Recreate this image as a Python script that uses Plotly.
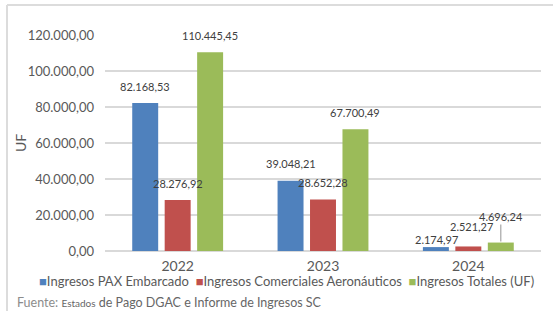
import plotly.graph_objects as go

years = ["2022", "2023", "2024"]
series_names = ["Ingresos PAX Embarcado", "Ingresos Comerciales Aeronáuticos", "Ingresos Totales (UF)"]
pax = [82168.53, 39048.21, 2174.97]
comerciales = [28276.92, 28652.28, 2521.27]
totales = [110445.45, 67700.49, 4696.24]
y_ticks = [0, 20000, 40000, 60000, 80000, 100000, 120000]

colors = ["#4f81bd", "#c0504d", "#9bbb59"]
FONT = "Lato, Open Sans, sans-serif"

W, H = 553, 311
L, R, T, B = 105, 12, 35, 60
PW, PH = W - L - R, H - T - B

def px(xp):
    return (xp - L) / PW

def py(yp):
    return (H - B - yp) / PH

fig = go.Figure()
all_vals = [pax, comerciales, totales]
for name, vals, c in zip(series_names, all_vals, colors):
    fig.add_trace(go.Bar(x=years, y=vals, name=name, marker=dict(color=c, line=dict(width=0)),
                         showlegend=False, hoverinfo="skip"))

def fmt(v):
    s = f"{v:,.2f}"
    return s.replace(",", "X").replace(".", ",").replace("X", ".")

slot = PW / 3 * (1 - 0.33) / 3
# label offsets (px) per [series][year]
yshifts = [[17, 17, 8], [17, 17, 20], [17, 17, None]]
xextra = [[0, 0, 1], [0, 0, 3], [0, 0, 0]]
for si, vals in enumerate(all_vals):
    for yi, v in enumerate(vals):
        xs = (si - 1) * slot + xextra[si][yi]
        if yshifts[si][yi] is None:
            fig.add_annotation(x=yi, y=v, xshift=xs, text=fmt(v), showarrow=True,
                               arrowhead=0, arrowwidth=1.2, arrowcolor="#a6a6a6", ax=0, ay=-26,
                               standoff=1, font=dict(family=FONT, size=11, color="#404040"))
        else:
            fig.add_annotation(x=yi, y=v, xshift=xs, yshift=yshifts[si][yi], text=fmt(v),
                               showarrow=False, font=dict(family=FONT, size=11, color="#404040"))

# legend as text
leg = "&nbsp;&nbsp;".join(
    f"<span style='color:{c}'>■</span>{n}" for n, c in zip(series_names, colors))
fig.add_annotation(xref="paper", yref="paper", x=px(286), y=py(281), text=leg, showarrow=False,
                   xanchor="center", yanchor="middle", font=dict(family=FONT, size=13, color="#595959"))

# y title
fig.add_annotation(xref="paper", yref="paper", x=px(20), y=py(143), text="UF", textangle=-90,
                   xanchor="center", yanchor="middle",
                   showarrow=False, font=dict(family=FONT, size=14, color="#595959"))

# footnote
fig.add_annotation(xref="paper", yref="paper", x=px(15), y=py(302), xanchor="left", yanchor="middle",
                   text="<span style='color:#8c8c8c'>Fuente: </span><span style='font-size:10px'>Estados</span> de Pago DGAC e Informe de Ingresos SC",
                   showarrow=False, font=dict(family=FONT, size=12.5, color="#666666"))

# border lines
fig.add_shape(type="line", xref="paper", yref="paper", x0=px(7), x1=px(553), y0=py(5), y1=py(5),
              line=dict(color="#dcdcdc", width=2))
fig.add_shape(type="line", xref="paper", yref="paper", x0=px(7), x1=px(7), y0=py(5), y1=py(311),
              line=dict(color="#dcdcdc", width=2))

fig.update_layout(
    width=W, height=H, margin=dict(l=L, r=R, t=T, b=B),
    paper_bgcolor="white", plot_bgcolor="white",
    barmode="group", bargap=0.33, bargroupgap=0.2,
    separators=",.",
    font=dict(family=FONT, size=13, color="#595959"),
    xaxis=dict(type="category", range=[-0.5, 2.5], showgrid=False, showline=False, ticks="",
               tickfont=dict(size=14, color="#595959"), ticklabelstandoff=5),
    yaxis=dict(range=[0, 120000], tickvals=y_ticks, tickformat=",.2f", showgrid=True,
               gridcolor="#d9d9d9", gridwidth=1.5, zeroline=True, zerolinecolor="#d9d9d9",
               zerolinewidth=1.5, showline=False, ticks="", ticklabelstandoff=10,
               tickfont=dict(size=13, color="#595959")),
)

fig.write_html("out.html", config={"displayModeBar": False},
               post_script="document.body.style.margin='0';document.body.style.overflow='hidden';")
